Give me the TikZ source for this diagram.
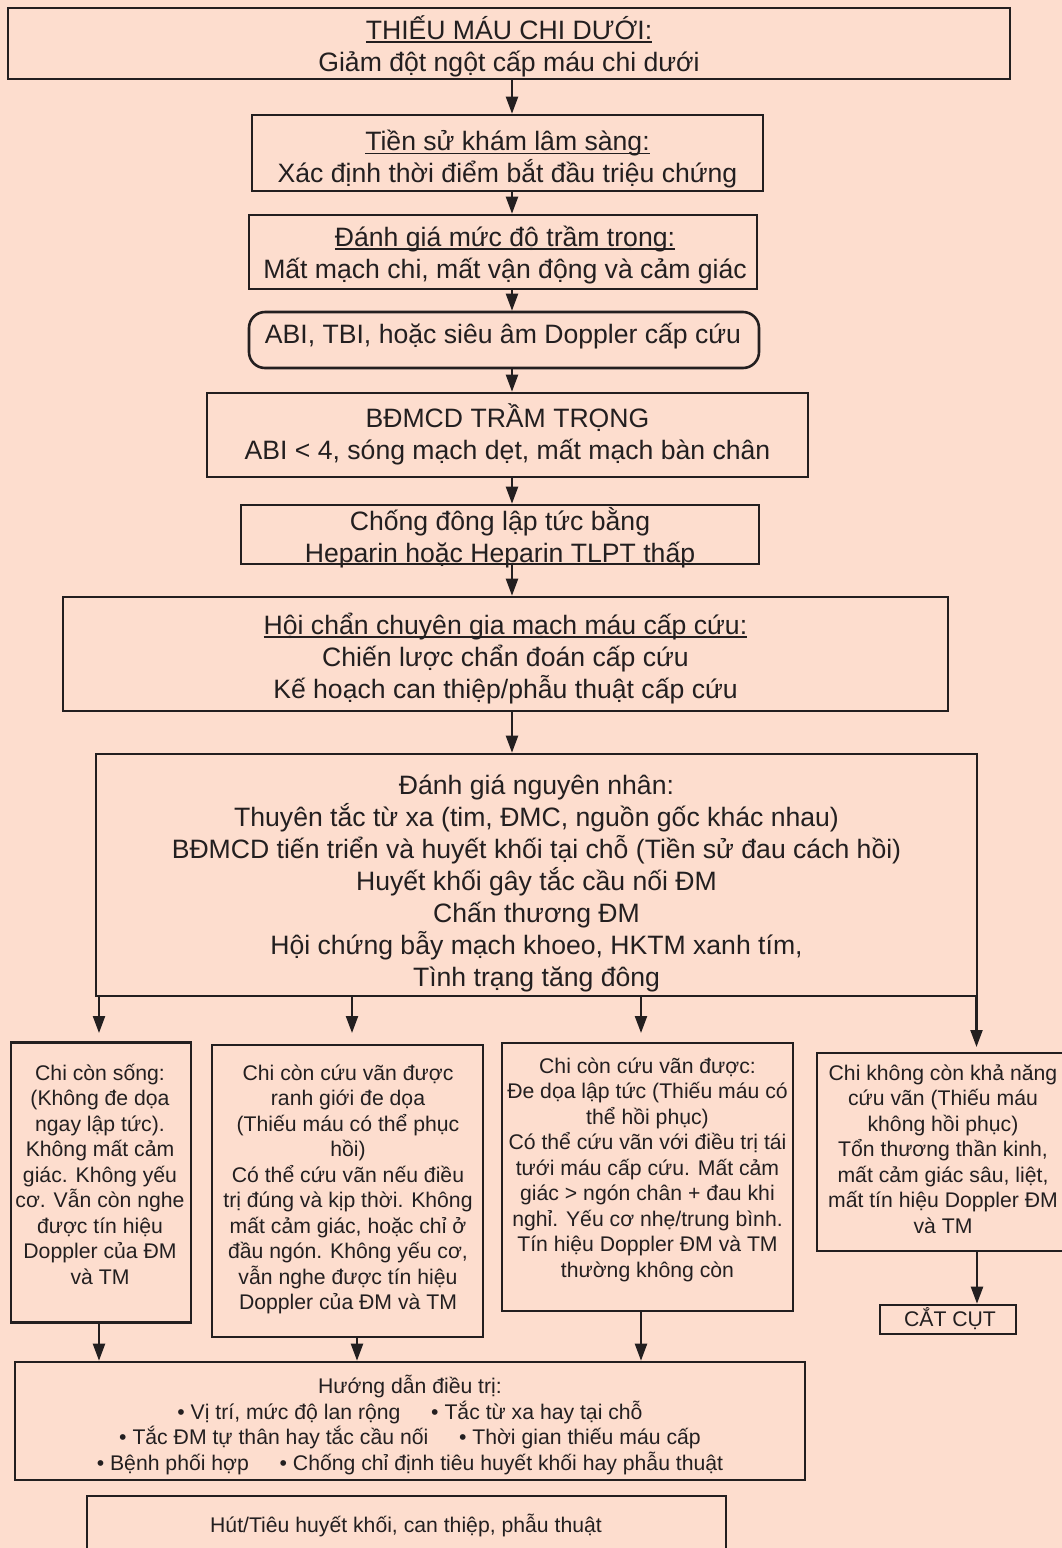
\documentclass[tikz,border=0pt]{standalone}
\usepackage{fontspec}
\setmainfont{Liberation Sans}
\usetikzlibrary{arrows.meta,calc}
\definecolor{paper}{RGB}{253,221,206}
\definecolor{ink}{RGB}{35,31,32}
% underline set at a fixed depth below the baseline
\newcommand\ulin[1]{\leavevmode\setbox0\hbox{#1}\rlap{\rule[-3.4pt]{\wd0}{1.4pt}}\box0}
% struts fixing the height of a first line above its baseline
\newcommand\bst{\rule{0pt}{30pt}}
\newcommand\sst{\rule{0pt}{24pt}}
\tikzset{
  frame/.style={draw=ink, line width=2.6pt, inner sep=0pt},
  bigtxt/.style={font=\fontsize{26.6pt}{32pt}\selectfont, text=ink, align=center,
    inner sep=0pt, anchor=north},
  smalltxt/.style={font=\fontsize{21.2pt}{25.5pt}\selectfont, text=ink, align=center,
    inner sep=0pt, anchor=north},
  arr/.style={draw=ink, line width=2.2pt, -{Triangle[length=17pt,width=12pt]}},
}
\begin{document}
\begin{tikzpicture}[x={(1pt,0)}, y={(0,-1pt)}]
\useasboundingbox (0,0) rectangle (1062,1548);
\clip (0,0) rectangle (1062,1548);
\fill[paper] (0,0) rectangle (1062,1548);

% ---- main column ----
\node[frame, minimum width=1002pt, minimum height=71pt] (b1) at (509,43.5) {};
\node[bigtxt] (t1) at (509,9) {\bst\ulin{THIẾU MÁU CHI DƯỚI:}\\Giảm đột ngột cấp máu chi dưới};

\node[frame, minimum width=511pt, minimum height=76pt] (b2) at (507.5,153) {};
\node[bigtxt] (t2) at (507.5,120.5) {\bst\ulin{Tiền sử khám lâm sàng:}\\Xác định thời điểm bắt đầu triệu chứng};

\node[frame, minimum width=508pt, minimum height=74pt] (b3) at (503,252) {};
\node[bigtxt] (t3) at (505,216) {\bst\ulin{Đánh giá mức độ trầm trọng:}\\Mất mạch chi, mất vận động và cảm giác};

\node[frame, rounded corners=16pt, minimum width=510pt, minimum height=56pt] (b4) at (504,340) {};
\node[bigtxt] (t4) at (503,313) {\bst ABI, TBI, hoặc siêu âm Doppler cấp cứu};

\node[frame, minimum width=601pt, minimum height=84pt] (b5) at (507.5,435) {};
\node[bigtxt] (t5) at (507.5,397) {\bst BĐMCD TRẦM TRỌNG\\ABI < 4, sóng mạch dẹt, mất mạch bàn chân};

\node[frame, minimum width=518pt, minimum height=59pt] (b6) at (500,534.5) {};
\node[bigtxt] (t6) at (500,500) {\bst Chống đông lập tức bằng\\Heparin hoặc Heparin TLPT thấp};

\node[frame, minimum width=885pt, minimum height=114pt] (b7) at (505.5,654) {};
\node[bigtxt] (t7) at (505.5,604) {\bst\ulin{Hội chẩn chuyên gia mạch máu cấp cứu:}\\Chiến lược chẩn đoán cấp cứu\\Kế hoạch can thiệp/phẫu thuật cấp cứu};

\node[frame, minimum width=881pt, minimum height=242pt] (b8) at (536.5,875) {};
\node[bigtxt] (t8) at (536.5,764) {\bst Đánh giá nguyên nhân:\\
  Thuyên tắc từ xa (tim, ĐMC, nguồn gốc khác nhau)\\
  BĐMCD tiến triển và huyết khối tại chỗ (Tiền sử đau cách hồi)\\
  Huyết khối gây tắc cầu nối ĐM\\
  Chấn thương ĐM\\
  Hội chứng bẫy mạch khoeo, HKTM xanh tím,\\
  Tình trạng tăng đông};

% ---- four outcome categories ----
\node[frame, minimum width=180pt, minimum height=280pt] (b9a) at (101,1182.5) {};
\node[smalltxt] (t9a) at (100,1056) {\sst Chi còn sống:\\(Không đe dọa\\ngay lập tức).\\Không mất cảm\\giác. Không yếu\\cơ. Vẫn còn nghe\\được tín hiệu\\Doppler của ĐM\\và TM};

\node[frame, minimum width=271pt, minimum height=292pt] (b9b) at (347.5,1191) {};
\node[smalltxt] (t9b) at (348,1056) {\sst Chi còn cứu vãn được\\ranh giới đe dọa\\(Thiếu máu có thể phục\\hồi)\\Có thể cứu vãn nếu điều\\trị đúng và kịp thời. Không\\mất cảm giác, hoặc chỉ ở\\đầu ngón. Không yếu cơ,\\vẫn nghe được tín hiệu\\Doppler của ĐM và TM};

\node[frame, minimum width=291pt, minimum height=268pt] (b9c) at (647.5,1177) {};
\node[smalltxt] (t9c) at (647.5,1049) {\sst Chi còn cứu vãn được:\\Đe dọa lập tức (Thiếu máu có\\thể hồi phục)\\Có thể cứu vãn với điều trị tái\\tưới máu cấp cứu. Mất cảm\\giác > ngón chân + đau khi\\nghỉ. Yếu cơ nhẹ/trung bình.\\Tín hiệu Doppler ĐM và TM\\thường không còn};

\node[frame, minimum width=253pt, minimum height=198pt] (b9d) at (943.5,1152) {};
\node[smalltxt] (t9d) at (943,1056) {\sst Chi không còn khả năng\\cứu vãn (Thiếu máu\\không hồi phục)\\Tổn thương thần kinh,\\mất cảm giác sâu, liệt,\\mất tín hiệu Doppler ĐM\\và TM};

\node[frame, minimum width=136pt, minimum height=29pt] (b12) at (948,1319.5) {};
\node[smalltxt] (t12) at (950,1302) {\sst CẮT CỤT};

% ---- treatment ----
\node[frame, minimum width=790pt, minimum height=118pt] (b10) at (410,1421) {};
\node[smalltxt] (t10) at (410,1369.5) {\sst Hướng dẫn điều trị:\\
  • Vị trí, mức độ lan rộng\hspace{1.45em}• Tắc từ xa hay tại chỗ\\
  • Tắc ĐM tự thân hay tắc cầu nối\hspace{1.45em}• Thời gian thiếu máu cấp\\
  • Bệnh phối hợp\hspace{1.45em}• Chống chỉ định tiêu huyết khối hay phẫu thuật};

\node[frame, minimum width=639pt, minimum height=70pt] (b11) at (406.5,1531) {};
\node[smalltxt] (t11) at (406,1508.5) {\sst Hút/Tiêu huyết khối, can thiệp, phẫu thuật};

% ---- connectors ----
\coordinate (ax) at (512,0);
\draw[arr] (b1.south -| ax) -- (b2.north -| ax);
\draw[arr] (b2.south -| ax) -- (b3.north -| ax);
\draw[arr] (b3.south -| ax) -- (b4.north -| ax);
\draw[arr] (b4.south -| ax) -- (b5.north -| ax);
\draw[arr] (b5.south -| ax) -- (b6.north -| ax);
\draw[arr] (b6.south -| ax) -- (b7.north -| ax);
\draw[arr] (b7.south -| ax) -- (b8.north -| ax);

\coordinate (e1) at (99,1033);
\coordinate (e2) at (352,1033);
\coordinate (e3) at (641,1033);
\coordinate (e4) at (976.5,1047);
\draw[arr] (b8.south -| e1) -- (e1);
\draw[arr] (b8.south -| e2) -- (e2);
\draw[arr] (b8.south -| e3) -- (e3);
\draw[arr] (b8.south -| e4) -- (e4);

\coordinate (f1) at (99,0);
\coordinate (f2) at (357,0);
\coordinate (f3) at (641,0);
\coordinate (f4) at (977,0);
\draw[arr] (b9a.south -| f1) -- (b10.north -| f1);
\draw[arr] (b9b.south -| f2) -- (b10.north -| f2);
\draw[arr] (b9c.south -| f3) -- (b10.north -| f3);
\draw[arr] (b9d.south -| f4) -- (b12.north -| f4);
\end{tikzpicture}
\end{document}
